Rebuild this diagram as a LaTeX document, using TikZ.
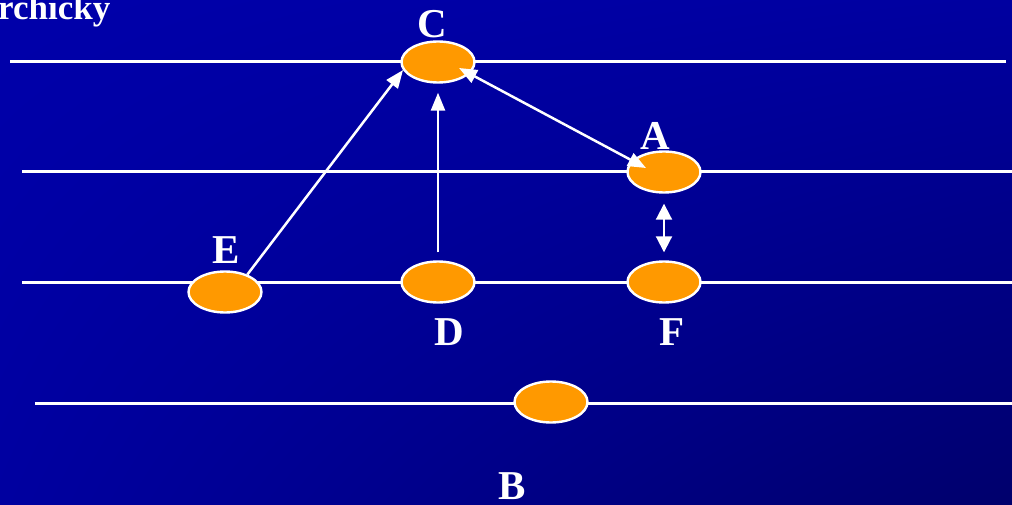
\documentclass[tikz,border=0pt]{standalone}
\usepackage{fontspec}
\setmainfont{Liberation Serif}
\usetikzlibrary{shapes.geometric,arrows.meta,calc,shadings}

\definecolor{bgtop}{RGB}{0,0,170}
\definecolor{bgmid}{RGB}{0,0,160}
\definecolor{bgdark}{RGB}{0,0,108}
\definecolor{peer}{RGB}{255,153,0}

\tikzset{
  level/.style={draw=white, line width=3pt},
  peernode/.style={ellipse, draw=white, line width=2.4pt, fill=peer,
                   minimum width=73pt, minimum height=41pt, inner sep=0pt},
  lbl/.style={text=white, font=\fontsize{41}{41}\selectfont\bfseries,
              inner sep=0pt, anchor=base},
  link/.style={draw=white, line width=2.5pt, -{Triangle[length=18pt,width=14pt]}},
  duallink/.style={draw=white, line width=2.5pt,
               {Triangle[length=18pt,width=14pt]}-{Triangle[length=18pt,width=14pt]}},
  biglink/.style={draw=white, line width=2pt,
               {Triangle[length=16pt,width=16pt]}-{Triangle[length=16pt,width=16pt]}}
}

\begin{document}
\begin{tikzpicture}[x=1pt, y=-1pt]
  % background with gradient towards the lower right
  \useasboundingbox (0,0) rectangle (1012,505);
  \shade[upper left=bgtop, upper right=bgmid, lower left=bgmid, lower right=bgdark]
    (0,0) rectangle (1012,505);

  % title fragment
  \node[text=white, font=\fontsize{35}{35}\selectfont\bfseries, inner sep=0pt,
        anchor=base west] (title) at (-2,20) {rchicky};

  % hierarchy levels
  \draw[level] (10,62)  -- (1006,62);
  \draw[level] (22,172) -- (1012,172);
  \draw[level] (22,282) -- (1012,282);
  \draw[level] (35,403) -- (1012,403);

  % peers
  \node[peernode] (C) at (438,62)  {};
  \node[peernode] (A) at (664,172) {};
  \node[peernode] (E) at (225,292) {};
  \node[peernode] (D) at (438,282) {};
  \node[peernode] (F) at (664,282) {};
  \node[peernode] (B) at (551,402) {};

  % connectors
  \draw[link] (E.38) -- (C.193);
  \draw[link, shorten <=8pt, shorten >=9pt] (D.north) -- (C.south);
  \coordinate (Cin) at ($(C.center)+(21,6)$);
  \coordinate (Ain) at ($(A.center)+(-18,-4)$);
  \draw[duallink] (Cin) -- (Ain);
  \draw[biglink, shorten <=10pt, shorten >=8pt] (A.south) -- (F.north);

  % labels
  \node[lbl] (lC) at (432,38)  {C};
  \node[lbl] (lA) at (655,150) {A};
  \node[lbl] (lE) at (226,263) {E};
  \node[lbl] (lD) at (449,345) {D};
  \node[lbl] (lF) at (672,345) {F};
  \node[lbl] (lB) at (512,499) {B};
\end{tikzpicture}
\end{document}
